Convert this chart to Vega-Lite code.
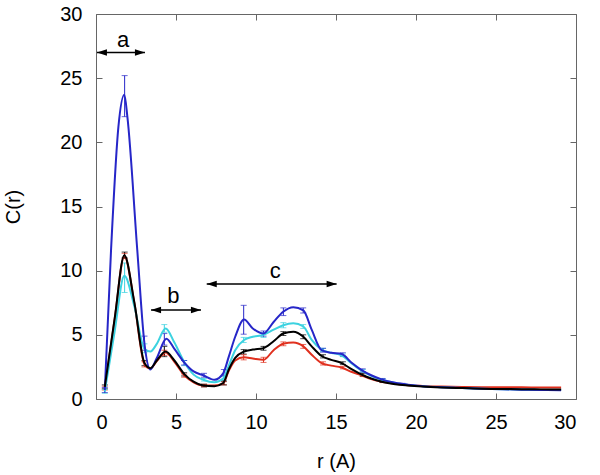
{
  "$schema": "https://vega.github.io/schema/vega-lite/v6.json",
  "width": 480,
  "height": 385,
  "autosize": {"type": "none"},
  "padding": {"left": 96, "top": 14, "right": 24, "bottom": 76},
  "config": {
    "view": {"stroke": "#666666", "strokeWidth": 1},
    "font": "Liberation Sans",
    "axis": {
      "grid": false,
      "domain": false,
      "tickColor": "#666666",
      "tickSize": -6,
      "labelFont": "Liberation Sans",
      "labelFontSize": 20,
      "labelColor": "#000000",
      "titleFont": "Liberation Sans",
      "titleFontSize": 20,
      "titleFontWeight": "normal",
      "titleColor": "#000000"
    },
    "axisX": {"labelPadding": 19, "titlePadding": 19},
    "axisY": {"labelPadding": 20, "titlePadding": 36}
  },
  "datasets": {
    "lines": [
      {"s": "s1", "r": 0.55, "c": 0.85}, {"s": "s1", "r": 1.17, "c": 6.25}, {"s": "s1", "r": 1.77, "c": 11.15}, {"s": "s1", "r": 2.4, "c": 7.45}, {"s": "s1", "r": 3.03, "c": 2.7}, {"s": "s1", "r": 3.4, "c": 2.38}, {"s": "s1", "r": 3.8, "c": 2.95}, {"s": "s1", "r": 4.35, "c": 3.62}, {"s": "s1", "r": 4.9, "c": 2.9}, {"s": "s1", "r": 5.55, "c": 1.8}, {"s": "s1", "r": 6.1, "c": 1.3}, {"s": "s1", "r": 6.7, "c": 1.05}, {"s": "s1", "r": 7.4, "c": 1.05}, {"s": "s1", "r": 7.95, "c": 1.22}, {"s": "s1", "r": 8.3, "c": 2.2}, {"s": "s1", "r": 8.7, "c": 3.0}, {"s": "s1", "r": 9.25, "c": 3.25}, {"s": "s1", "r": 9.8, "c": 3.15}, {"s": "s1", "r": 10.46, "c": 3.05}, {"s": "s1", "r": 11.1, "c": 3.8}, {"s": "s1", "r": 11.7, "c": 4.3}, {"s": "s1", "r": 12.33, "c": 4.4}, {"s": "s1", "r": 12.96, "c": 4.1}, {"s": "s1", "r": 13.48, "c": 3.45}, {"s": "s1", "r": 14.1, "c": 2.8}, {"s": "s1", "r": 14.7, "c": 2.6}, {"s": "s1", "r": 15.35, "c": 2.45}, {"s": "s1", "r": 16.0, "c": 2.1}, {"s": "s1", "r": 16.6, "c": 1.85}, {"s": "s1", "r": 17.2, "c": 1.55}, {"s": "s1", "r": 17.85, "c": 1.35}, {"s": "s1", "r": 18.7, "c": 1.18}, {"s": "s1", "r": 19.5, "c": 1.08}, {"s": "s1", "r": 20.4, "c": 1.02}, {"s": "s1", "r": 21.6, "c": 0.97}, {"s": "s1", "r": 22.9, "c": 0.94}, {"s": "s1", "r": 24.1, "c": 0.92}, {"s": "s1", "r": 25.4, "c": 0.91}, {"s": "s1", "r": 26.6, "c": 0.91}, {"s": "s1", "r": 27.8, "c": 0.9}, {"s": "s1", "r": 29.07, "c": 0.9},

      {"s": "s2", "r": 0.55, "c": 0.6}, {"s": "s2", "r": 1.17, "c": 5.3}, {"s": "s2", "r": 1.77, "c": 9.6}, {"s": "s2", "r": 2.4, "c": 7.2}, {"s": "s2", "r": 3.03, "c": 3.9}, {"s": "s2", "r": 3.4, "c": 3.7}, {"s": "s2", "r": 3.8, "c": 4.3}, {"s": "s2", "r": 4.35, "c": 5.5}, {"s": "s2", "r": 4.9, "c": 4.4}, {"s": "s2", "r": 5.55, "c": 2.8}, {"s": "s2", "r": 6.1, "c": 1.9}, {"s": "s2", "r": 6.7, "c": 1.5}, {"s": "s2", "r": 7.4, "c": 1.3}, {"s": "s2", "r": 7.95, "c": 1.6}, {"s": "s2", "r": 8.3, "c": 2.6}, {"s": "s2", "r": 8.7, "c": 3.8}, {"s": "s2", "r": 9.25, "c": 4.6}, {"s": "s2", "r": 9.8, "c": 4.85}, {"s": "s2", "r": 10.46, "c": 5.0}, {"s": "s2", "r": 11.1, "c": 5.4}, {"s": "s2", "r": 11.7, "c": 5.75}, {"s": "s2", "r": 12.33, "c": 5.9}, {"s": "s2", "r": 12.96, "c": 5.65}, {"s": "s2", "r": 13.48, "c": 4.6}, {"s": "s2", "r": 14.1, "c": 3.85}, {"s": "s2", "r": 14.7, "c": 3.6}, {"s": "s2", "r": 15.35, "c": 3.4}, {"s": "s2", "r": 16.0, "c": 2.75}, {"s": "s2", "r": 16.6, "c": 2.2}, {"s": "s2", "r": 17.2, "c": 1.8}, {"s": "s2", "r": 17.85, "c": 1.5}, {"s": "s2", "r": 18.7, "c": 1.25}, {"s": "s2", "r": 19.5, "c": 1.1}, {"s": "s2", "r": 20.4, "c": 1.0}, {"s": "s2", "r": 21.6, "c": 0.92}, {"s": "s2", "r": 22.9, "c": 0.85}, {"s": "s2", "r": 24.1, "c": 0.8}, {"s": "s2", "r": 25.4, "c": 0.76}, {"s": "s2", "r": 26.6, "c": 0.73}, {"s": "s2", "r": 27.8, "c": 0.71}, {"s": "s2", "r": 29.07, "c": 0.7},

      {"s": "s3", "r": 0.55, "c": 0.7}, {"s": "s3", "r": 0.94, "c": 11.6}, {"s": "s3", "r": 1.4, "c": 21.2}, {"s": "s3", "r": 1.77, "c": 23.7}, {"s": "s3", "r": 1.96, "c": 22.0}, {"s": "s3", "r": 2.58, "c": 11.6}, {"s": "s3", "r": 3.03, "c": 4.3}, {"s": "s3", "r": 3.4, "c": 2.3}, {"s": "s3", "r": 3.8, "c": 3.2}, {"s": "s3", "r": 4.4, "c": 4.7}, {"s": "s3", "r": 4.9, "c": 3.9}, {"s": "s3", "r": 5.55, "c": 2.8}, {"s": "s3", "r": 6.1, "c": 2.15}, {"s": "s3", "r": 6.7, "c": 1.85}, {"s": "s3", "r": 7.4, "c": 1.5}, {"s": "s3", "r": 7.95, "c": 2.0}, {"s": "s3", "r": 8.3, "c": 3.3}, {"s": "s3", "r": 8.7, "c": 4.85}, {"s": "s3", "r": 9.25, "c": 6.2}, {"s": "s3", "r": 9.8, "c": 5.5}, {"s": "s3", "r": 10.46, "c": 5.1}, {"s": "s3", "r": 11.1, "c": 6.0}, {"s": "s3", "r": 11.7, "c": 6.8}, {"s": "s3", "r": 12.33, "c": 7.15}, {"s": "s3", "r": 12.96, "c": 6.9}, {"s": "s3", "r": 13.48, "c": 5.4}, {"s": "s3", "r": 14.1, "c": 3.8}, {"s": "s3", "r": 14.7, "c": 3.6}, {"s": "s3", "r": 15.35, "c": 3.5}, {"s": "s3", "r": 16.0, "c": 2.8}, {"s": "s3", "r": 16.6, "c": 2.25}, {"s": "s3", "r": 17.2, "c": 1.85}, {"s": "s3", "r": 17.85, "c": 1.53}, {"s": "s3", "r": 18.7, "c": 1.27}, {"s": "s3", "r": 19.5, "c": 1.12}, {"s": "s3", "r": 20.4, "c": 1.0}, {"s": "s3", "r": 21.6, "c": 0.92}, {"s": "s3", "r": 22.9, "c": 0.86}, {"s": "s3", "r": 24.1, "c": 0.8}, {"s": "s3", "r": 25.4, "c": 0.76}, {"s": "s3", "r": 26.6, "c": 0.73}, {"s": "s3", "r": 27.8, "c": 0.7}, {"s": "s3", "r": 29.07, "c": 0.68},

      {"s": "s4", "r": 0.55, "c": 0.95}, {"s": "s4", "r": 1.17, "c": 6.3}, {"s": "s4", "r": 1.77, "c": 11.2}, {"s": "s4", "r": 2.4, "c": 7.5}, {"s": "s4", "r": 3.03, "c": 2.8}, {"s": "s4", "r": 3.4, "c": 2.4}, {"s": "s4", "r": 3.8, "c": 3.0}, {"s": "s4", "r": 4.35, "c": 3.7}, {"s": "s4", "r": 4.9, "c": 3.0}, {"s": "s4", "r": 5.55, "c": 1.9}, {"s": "s4", "r": 6.1, "c": 1.35}, {"s": "s4", "r": 6.7, "c": 1.05}, {"s": "s4", "r": 7.4, "c": 1.0}, {"s": "s4", "r": 7.95, "c": 1.25}, {"s": "s4", "r": 8.3, "c": 2.3}, {"s": "s4", "r": 8.7, "c": 3.2}, {"s": "s4", "r": 9.25, "c": 3.7}, {"s": "s4", "r": 9.8, "c": 3.85}, {"s": "s4", "r": 10.46, "c": 3.95}, {"s": "s4", "r": 11.1, "c": 4.5}, {"s": "s4", "r": 11.7, "c": 5.1}, {"s": "s4", "r": 12.33, "c": 5.25}, {"s": "s4", "r": 12.96, "c": 4.85}, {"s": "s4", "r": 13.48, "c": 4.1}, {"s": "s4", "r": 14.1, "c": 3.35}, {"s": "s4", "r": 14.7, "c": 3.05}, {"s": "s4", "r": 15.35, "c": 2.8}, {"s": "s4", "r": 16.0, "c": 2.3}, {"s": "s4", "r": 16.6, "c": 1.9}, {"s": "s4", "r": 17.2, "c": 1.6}, {"s": "s4", "r": 17.85, "c": 1.35}, {"s": "s4", "r": 18.7, "c": 1.15}, {"s": "s4", "r": 19.5, "c": 1.05}, {"s": "s4", "r": 20.4, "c": 0.97}, {"s": "s4", "r": 21.6, "c": 0.9}, {"s": "s4", "r": 22.9, "c": 0.85}, {"s": "s4", "r": 24.1, "c": 0.8}, {"s": "s4", "r": 25.4, "c": 0.78}, {"s": "s4", "r": 26.6, "c": 0.76}, {"s": "s4", "r": 27.8, "c": 0.75}, {"s": "s4", "r": 29.07, "c": 0.74}
    ],
    "errs": [
      {"s": "s1", "r": 0.55, "lo": 0.7, "hi": 1.0}, {"s": "s1", "r": 1.79, "lo": 10.95, "hi": 11.35}, {"s": "s1", "r": 3.03, "lo": 2.5, "hi": 2.9}, {"s": "s1", "r": 4.27, "lo": 3.4, "hi": 3.8}, {"s": "s1", "r": 5.51, "lo": 1.7, "hi": 1.95}, {"s": "s1", "r": 6.75, "lo": 0.95, "hi": 1.15}, {"s": "s1", "r": 7.99, "lo": 1.1, "hi": 1.35}, {"s": "s1", "r": 9.23, "lo": 3.05, "hi": 3.45}, {"s": "s1", "r": 10.47, "lo": 2.85, "hi": 3.25}, {"s": "s1", "r": 11.71, "lo": 4.15, "hi": 4.45}, {"s": "s1", "r": 12.95, "lo": 3.95, "hi": 4.25}, {"s": "s1", "r": 14.19, "lo": 2.65, "hi": 2.9}, {"s": "s1", "r": 15.43, "lo": 2.35, "hi": 2.55}, {"s": "s1", "r": 16.67, "lo": 1.75, "hi": 1.95}, {"s": "s1", "r": 17.91, "lo": 1.28, "hi": 1.42},
      {"s": "s2", "r": 0.55, "lo": 0.45, "hi": 0.75}, {"s": "s2", "r": 1.79, "lo": 8.3, "hi": 10.6}, {"s": "s2", "r": 3.03, "lo": 3.6, "hi": 4.3}, {"s": "s2", "r": 4.27, "lo": 5.2, "hi": 5.8}, {"s": "s2", "r": 5.51, "lo": 2.6, "hi": 3.0}, {"s": "s2", "r": 6.75, "lo": 1.4, "hi": 1.6}, {"s": "s2", "r": 7.99, "lo": 1.45, "hi": 1.75}, {"s": "s2", "r": 9.23, "lo": 4.4, "hi": 4.8}, {"s": "s2", "r": 10.47, "lo": 4.8, "hi": 5.15}, {"s": "s2", "r": 11.71, "lo": 5.55, "hi": 5.95}, {"s": "s2", "r": 12.95, "lo": 5.5, "hi": 5.8}, {"s": "s2", "r": 14.19, "lo": 3.7, "hi": 3.95}, {"s": "s2", "r": 15.43, "lo": 3.3, "hi": 3.5}, {"s": "s2", "r": 16.67, "lo": 2.1, "hi": 2.3}, {"s": "s2", "r": 17.91, "lo": 1.42, "hi": 1.58},
      {"s": "s3", "r": 0.55, "lo": 0.5, "hi": 0.9}, {"s": "s3", "r": 1.79, "lo": 22.0, "hi": 25.2}, {"s": "s3", "r": 3.03, "lo": 3.8, "hi": 4.9}, {"s": "s3", "r": 4.27, "lo": 4.2, "hi": 5.1}, {"s": "s3", "r": 5.51, "lo": 2.65, "hi": 3.0}, {"s": "s3", "r": 6.75, "lo": 1.7, "hi": 2.0}, {"s": "s3", "r": 7.99, "lo": 1.8, "hi": 2.3}, {"s": "s3", "r": 9.23, "lo": 5.05, "hi": 7.3}, {"s": "s3", "r": 10.47, "lo": 4.9, "hi": 5.3}, {"s": "s3", "r": 11.71, "lo": 6.5, "hi": 7.1}, {"s": "s3", "r": 12.95, "lo": 6.7, "hi": 7.1}, {"s": "s3", "r": 14.19, "lo": 3.65, "hi": 3.95}, {"s": "s3", "r": 15.43, "lo": 3.35, "hi": 3.6}, {"s": "s3", "r": 16.67, "lo": 2.1, "hi": 2.35}, {"s": "s3", "r": 17.91, "lo": 1.45, "hi": 1.6}, {"s": "s3", "r": 19.15, "lo": 1.12, "hi": 1.22},
      {"s": "s4", "r": 0.55, "lo": 0.8, "hi": 1.1}, {"s": "s4", "r": 1.79, "lo": 11.0, "hi": 11.45}, {"s": "s4", "r": 3.03, "lo": 2.6, "hi": 3.0}, {"s": "s4", "r": 4.27, "lo": 3.3, "hi": 4.1}, {"s": "s4", "r": 5.51, "lo": 1.8, "hi": 2.05}, {"s": "s4", "r": 6.75, "lo": 0.95, "hi": 1.15}, {"s": "s4", "r": 7.99, "lo": 1.1, "hi": 1.4}, {"s": "s4", "r": 9.23, "lo": 3.5, "hi": 3.85}, {"s": "s4", "r": 10.47, "lo": 3.8, "hi": 4.1}, {"s": "s4", "r": 11.71, "lo": 4.95, "hi": 5.25}, {"s": "s4", "r": 12.95, "lo": 4.7, "hi": 5.0}, {"s": "s4", "r": 14.19, "lo": 3.2, "hi": 3.45}, {"s": "s4", "r": 15.43, "lo": 2.7, "hi": 2.9}, {"s": "s4", "r": 16.67, "lo": 1.8, "hi": 2.0}, {"s": "s4", "r": 17.91, "lo": 1.3, "hi": 1.42}
    ],
    "arrows": [
      {"label": "a", "x1": 0.06, "x2": 3.06, "y": 27.0, "lx": 1.7, "ly": 27.45},
      {"label": "b", "x1": 3.44, "x2": 6.56, "y": 6.93, "lx": 4.83, "ly": 7.45},
      {"label": "c", "x1": 6.92, "x2": 15.04, "y": 8.97, "lx": 11.2, "ly": 9.4}
    ]
  },
  "resolve": {"axis": {"x": "independent", "y": "independent"}},
  "layer": [
    {
      "data": {"name": "errs"},
      "mark": {"type": "rule", "strokeWidth": 1},
      "encoding": {
        "x": {"field": "r", "type": "quantitative", "scale": {"domain": [0, 30], "nice": false}, "axis": {"orient": "top", "labels": false, "title": null, "values": [0, 5, 10, 15, 20, 25, 30]}},
        "y": {"field": "lo", "type": "quantitative", "scale": {"domain": [0, 30], "nice": false}, "axis": {"orient": "right", "labels": false, "title": null, "values": [0, 5, 10, 15, 20, 25, 30]}},
        "y2": {"field": "hi"},
        "color": {"field": "s", "type": "nominal", "scale": {"domain": ["s1", "s2", "s3", "s4"], "range": ["#e0301e", "#3cd2e0", "#2626c8", "#000000"]}, "legend": null}
      }
    },
    {
      "data": {"name": "errs"},
      "mark": {"type": "tick", "orient": "horizontal", "size": 6, "thickness": 1},
      "encoding": {
        "x": {"field": "r", "type": "quantitative", "axis": null},
        "y": {"field": "lo", "type": "quantitative", "axis": null},
        "color": {"field": "s", "type": "nominal", "legend": null}
      }
    },
    {
      "data": {"name": "errs"},
      "mark": {"type": "tick", "orient": "horizontal", "size": 6, "thickness": 1},
      "encoding": {
        "x": {"field": "r", "type": "quantitative", "axis": null},
        "y": {"field": "hi", "type": "quantitative", "axis": null},
        "color": {"field": "s", "type": "nominal", "legend": null}
      }
    },
    {
      "data": {"name": "lines"},
      "mark": {"type": "line", "interpolate": "monotone", "strokeWidth": 2},
      "encoding": {
        "x": {"field": "r", "type": "quantitative", "axis": {"orient": "bottom", "title": "r (A)", "values": [0, 5, 10, 15, 20, 25, 30]}},
        "y": {"field": "c", "type": "quantitative", "axis": {"orient": "left", "title": "C(r)", "values": [0, 5, 10, 15, 20, 25, 30]}},
        "color": {"field": "s", "type": "nominal", "legend": null},
        "order": {"field": "r", "type": "quantitative"}
      }
    },
    {
      "data": {"name": "arrows"},
      "mark": {"type": "rule", "strokeWidth": 1.5, "color": "#000000"},
      "encoding": {
        "x": {"field": "x1", "type": "quantitative", "axis": null},
        "x2": {"field": "x2"},
        "y": {"field": "y", "type": "quantitative", "axis": null}
      }
    },
    {
      "data": {"name": "arrows"},
      "mark": {"type": "point", "shape": "M0,0L2,-0.65L2,0.65Z", "filled": true, "size": 100, "color": "#000000", "opacity": 1},
      "encoding": {
        "x": {"field": "x1", "type": "quantitative", "axis": null},
        "y": {"field": "y", "type": "quantitative", "axis": null}
      }
    },
    {
      "data": {"name": "arrows"},
      "mark": {"type": "point", "shape": "M0,0L-2,-0.65L-2,0.65Z", "filled": true, "size": 100, "color": "#000000", "opacity": 1},
      "encoding": {
        "x": {"field": "x2", "type": "quantitative", "axis": null},
        "y": {"field": "y", "type": "quantitative", "axis": null}
      }
    },
    {
      "data": {"name": "arrows"},
      "mark": {"type": "text", "fontSize": 22, "font": "Liberation Sans", "baseline": "alphabetic", "align": "center", "color": "#000000"},
      "encoding": {
        "x": {"field": "lx", "type": "quantitative", "axis": null},
        "y": {"field": "ly", "type": "quantitative", "axis": null},
        "text": {"field": "label"}
      }
    }
  ]
}
